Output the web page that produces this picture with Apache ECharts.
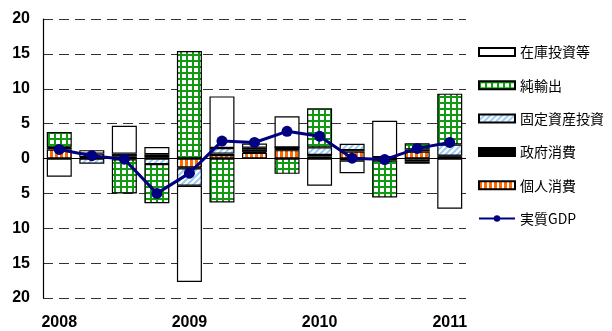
<!DOCTYPE html>
<html>
<head>
<meta charset="utf-8">
<script src="https://cdn.jsdelivr.net/npm/echarts@6/dist/echarts.min.js"></script>
<style>
  html, body { margin: 0; padding: 0; background: #fff; }
  #chart { width: 612px; height: 331px; }
</style>
</head>
<body>
<div id="chart"></div>
<script>
// Quarterly contributions to real GDP growth (percentage points), 2008Q1-2011Q1
const categories = ['2008Q1','2008Q2','2008Q3','2008Q4','2009Q1','2009Q2','2009Q3','2009Q4',
                    '2010Q1','2010Q2','2010Q3','2010Q4','2011Q1'];
const personalConsumption = [1.3, 0.1, 0.3, 0.1, -1.3, 0.5, 0.8, 1.2, 0.3, 1.0, 0.1, 1.0, 0.3];
const governmentConsumption = [0.2, 0.1, 0.4, 0.5, -0.1, 0.2, 0.15, 0.4, 0.2, 0.2, 0.1, 0.3, 0.1];
const fixedInvestment = [0.1, -0.75, -0.1, -0.8, -2.5, 0.8, 0.3, 0, 1.1, 0.9, -0.3, -0.4, 1.6];
const netExports = [2.2, 0.5, -4.9, -5.6, 15.4, -6.3, 0.3, -2.2, 5.6, -0.3, -5.3, 0.9, 7.3];
const inventories = [-2.6, 0.5, 4.0, 1.05, -13.8, 7.4, 0.6, 4.45, -3.9, -1.8, 5.2, -0.35, -7.2];
const realGDP = [1.3, 0.4, -0.1, -5.0, -2.1, 2.5, 2.3, 3.9, 3.2, 0.05, -0.15, 1.45, 2.3];
const yTicks = { min: -20, max: 20, step: 5 };

// Fill patterns for the stacked bars
function tile(w, h, draw) {
  const c = document.createElement('canvas');
  c.width = w; c.height = h;
  const ctx = c.getContext('2d');
  ctx.fillStyle = '#fff';
  ctx.fillRect(0, 0, w, h);
  draw(ctx, w, h);
  return { image: c, repeat: 'repeat' };
}
const greenGrid = tile(6, 6, (ctx) => {
  ctx.fillStyle = '#129a12';
  ctx.fillRect(0, 0, 6, 2);
  ctx.fillRect(0, 0, 2, 6);
});
const orangeStripes = tile(5, 4, (ctx) => {
  ctx.fillStyle = '#ff6a00';
  ctx.fillRect(0, 0, 3, 4);
});
const blueHatch = tile(6, 6, (ctx) => {
  ctx.strokeStyle = '#9ccbf5';
  ctx.lineWidth = 2;
  ctx.beginPath();
  ctx.moveTo(-1, 7); ctx.lineTo(7, -1);
  ctx.moveTo(-4, 4); ctx.lineTo(4, -4);
  ctx.moveTo(2, 10); ctx.lineTo(10, 2);
  ctx.stroke();
});

const barBase = {
  type: 'bar',
  stack: 'contrib',
  barWidth: 25,
  emphasis: { disabled: true }
};
const border = { borderColor: '#000', borderWidth: 1.2 };

const chart = echarts.init(document.getElementById('chart'), null, { renderer: 'canvas' });
chart.setOption({
  animation: false,
  textStyle: { fontFamily: 'Liberation Sans, Arial, sans-serif' },
  grid: { left: 43, right: 146, top: 19, bottom: 30 },
  legend: {
    orient: 'vertical',
    left: 478,
    top: 44,
    padding: 0,
    itemWidth: 36,
    itemHeight: 8,
    itemGap: 17.3,
    selectedMode: false,
    textStyle: {
      fontFamily: 'Noto Sans CJK JP, sans-serif',
      fontSize: 14,
      lineHeight: 16,
      color: '#000'
    },
    data: [
      { name: '在庫投資等', icon: 'rect' },
      { name: '純輸出', icon: 'rect' },
      { name: '固定資産投資', icon: 'rect' },
      { name: '政府消費', icon: 'rect' },
      { name: '個人消費', icon: 'rect' },
      { name: '実質GDP' }
    ]
  },
  xAxis: {
    type: 'category',
    data: categories,
    boundaryGap: true,
    axisLine: { show: false },
    axisTick: { show: false },
    axisLabel: {
      interval: 0,
      margin: 17,
      fontSize: 16,
      fontWeight: 'bold',
      color: '#000',
      formatter: (v) => (v.endsWith('Q1') ? v.slice(0, 4) : '')
    },
    splitLine: { show: false }
  },
  yAxis: {
    type: 'value',
    min: yTicks.min,
    max: yTicks.max,
    interval: yTicks.step,
    axisLine: { show: true, lineStyle: { color: '#000', width: 1.2 } },
    axisTick: { show: false },
    axisLabel: {
      margin: 13,
      fontSize: 16,
      fontWeight: 'bold',
      color: '#000',
      formatter: (v) => String(Math.abs(v))
    },
    splitLine: { show: true, lineStyle: { color: '#333', width: 1.2, type: [10, 6] } }
  },
  series: [
    Object.assign({}, barBase, {
      name: '個人消費',
      data: personalConsumption,
      itemStyle: Object.assign({ color: orangeStripes }, border),
      markLine: {
        silent: true,
        symbol: 'none',
        label: { show: false },
        lineStyle: { color: '#000', width: 1.2, type: 'solid' },
        data: [{ yAxis: 0 }]
      }
    }),
    Object.assign({}, barBase, {
      name: '政府消費',
      data: governmentConsumption,
      itemStyle: Object.assign({ color: '#000' }, border)
    }),
    Object.assign({}, barBase, {
      name: '固定資産投資',
      data: fixedInvestment,
      itemStyle: Object.assign({ color: blueHatch }, border)
    }),
    Object.assign({}, barBase, {
      name: '純輸出',
      data: netExports,
      itemStyle: Object.assign({ color: greenGrid }, border)
    }),
    Object.assign({}, barBase, {
      name: '在庫投資等',
      data: inventories,
      itemStyle: Object.assign({ color: '#fff' }, border)
    }),
    {
      name: '実質GDP',
      type: 'line',
      data: realGDP,
      symbol: 'circle',
      symbolSize: 11,
      z: 5,
      lineStyle: { color: '#000080', width: 3 },
      itemStyle: { color: '#000080' },
      emphasis: { disabled: true }
    }
  ]
});
</script>
</body>
</html>
